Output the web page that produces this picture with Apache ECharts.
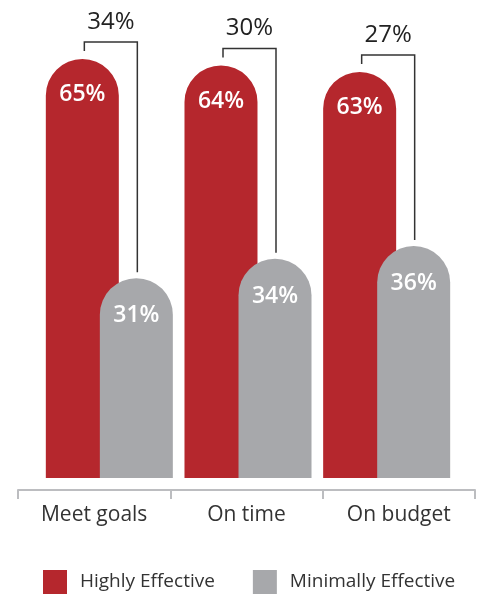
<!DOCTYPE html>
<html>
<head>
<meta charset="utf-8">
<script src="https://cdn.jsdelivr.net/npm/echarts@6/dist/echarts.min.js"></script>
<style>
  html, body { margin: 0; padding: 0; background: #fff; }
  #chart { width: 484px; height: 594px; }
</style>
</head>
<body>
<div id="chart"></div>
<script>
// values
const categories = ['Meet goals', 'On time', 'On budget']
const highlyEffective = [65, 64, 63]
const minimallyEffective = [31, 34, 36]

const RED = '#b5272d'
const GRAY = '#a7a8ab'
const FONT = '"Open Sans", sans-serif'

// bar geometry (px)
const barW = 73
const halfStep = 27 // half the distance between the two bar centres in a group

const chart = echarts.init(document.getElementById('chart'))

const barLabel = {
  show: true,
  position: 'insideTop',
  distance: 24,
  color: '#fff',
  fontFamily: FONT,
  fontSize: 23,
  fontWeight: 600,
  formatter: p => p.value + '%'
}

const option = {
  animation: false,
  textStyle: { fontFamily: FONT },
  legend: {
    left: 43,
    top: 570,
    padding: 0,
    itemWidth: 24,
    itemHeight: 24,
    itemGap: 38,
    icon: 'rect',
    textStyle: { fontSize: 19, color: '#333', padding: [0, 0, 0, 8] },
    data: ['Highly Effective', 'Minimally Effective']
  },
  grid: [
    { left: 40, right: 28, top: 1, bottom: 116 },
    { left: 18, right: 9, bottom: 104, height: 20 }
  ],
  xAxis: [
    { type: 'category', gridIndex: 0, data: categories, show: false },
    {
      type: 'category',
      gridIndex: 1,
      data: categories,
      axisLine: { show: true, lineStyle: { color: '#bcbdc0', width: 2 } },
      axisTick: { show: true, length: 9, interval: 0, lineStyle: { color: '#bcbdc0', width: 2 } },
      axisLabel: { margin: 15, fontSize: 21, color: '#333', fontFamily: FONT }
    }
  ],
  yAxis: [
    { type: 'value', gridIndex: 0, min: 0, max: 74, show: false },
    { type: 'value', gridIndex: 1, show: false }
  ],
  series: [
    {
      name: 'Highly Effective',
      type: 'bar',
      data: highlyEffective,
      barWidth: barW,
      barGap: '-26%',
      itemStyle: { color: RED, borderRadius: [barW / 2, barW / 2, 0, 0] },
      label: barLabel
    },
    {
      name: 'Minimally Effective',
      type: 'bar',
      data: minimallyEffective,
      barWidth: barW,
      itemStyle: { color: GRAY, borderRadius: [barW / 2, barW / 2, 0, 0] },
      label: Object.assign({}, barLabel, { distance: 26 })
    },
    {
      // gap brackets between the two bars
      type: 'custom',
      xAxisIndex: 0,
      yAxisIndex: 0,
      silent: true,
      z: 5,
      data: categories.map((c, i) => [i, highlyEffective[i], minimallyEffective[i]]),
      renderItem: (params, api) => {
        const hi = api.coord([api.value(0), api.value(1)])
        const lo = api.coord([api.value(0), api.value(2)])
        const xl = hi[0] - halfStep + 2
        const xr = hi[0] + halfStep + 1
        const top = hi[1] - 17
        return {
          type: 'group',
          children: [
            {
              type: 'polyline',
              shape: { points: [[xl, hi[1] - 8], [xl, top], [xr, top], [xr, lo[1] - 6]] },
              style: { stroke: '#333', lineWidth: 1.5, fill: null }
            },
            {
              type: 'text',
              style: {
                x: (xl + xr) / 2,
                y: top - 20,
                text: (api.value(1) - api.value(2)) + '%',
                fill: '#222',
                font: '24px ' + FONT,
                align: 'center',
                verticalAlign: 'middle'
              }
            }
          ]
        }
      }
    }
  ]
}

chart.setOption(option)
</script>
</body>
</html>
